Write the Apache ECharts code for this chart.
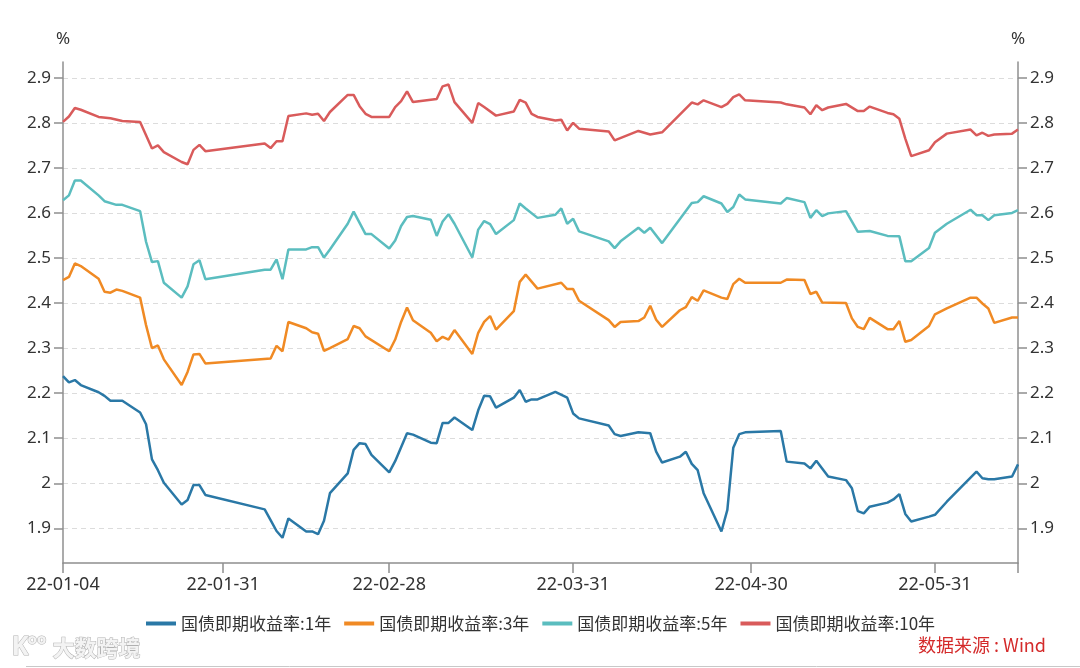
<!DOCTYPE html>
<html>
<head>
<meta charset="utf-8">
<style>
  html, body { margin: 0; padding: 0; background: #fff; }
  #chart { width: 1080px; height: 668px; }
</style>
<script src="https://cdn.jsdelivr.net/npm/echarts@6/dist/echarts.min.js"></script>
</head>
<body>
<div id="chart"></div>
<script>
// ---- Data ----
const seriesNames = ['国债即期收益率:1年', '国债即期收益率:3年', '国债即期收益率:5年', '国债即期收益率:10年'];
const tickDates = ['2022-01-04', '2022-01-31', '2022-02-28', '2022-03-31', '2022-04-30', '2022-05-31'];
const yTicks = [1.9, 2.0, 2.1, 2.2, 2.3, 2.4, 2.5, 2.6, 2.7, 2.8, 2.9];
const startDate = '2022-01-04';
const endDate = '2022-06-14';

const d1 = ['01-04','01-05','01-06','01-07','01-10','01-11','01-12','01-14','01-17','01-18','01-19','01-20','01-21','01-24','01-25','01-26','01-27','01-28','02-07','02-08','02-09','02-10','02-11','02-14','02-15','02-16','02-17','02-18','02-21','02-22','02-23','02-24','02-25','02-28','03-01','03-03','03-04','03-07','03-08','03-09','03-10','03-11','03-14','03-15','03-16','03-17','03-18','03-21','03-22','03-23','03-24','03-25','03-28','03-30','03-31','04-01','04-06','04-07','04-08','04-11','04-13','04-14','04-15','04-18','04-19','04-20','04-21','04-22','04-25','04-26','04-27','04-28','04-29','05-05','05-06','05-09','05-10','05-11','05-13','05-16','05-17','05-18','05-19','05-20','05-23','05-24','05-25','05-26','05-27','05-30','05-31','06-02','06-07','06-08','06-09','06-10','06-13','06-14'];
const v1 = [2.238,2.224,2.229,2.218,2.202,2.194,2.183,2.183,2.157,2.131,2.053,2.029,2.001,1.953,1.963,1.996,1.996,1.974,1.942,1.918,1.894,1.879,1.922,1.893,1.893,1.887,1.917,1.978,2.022,2.074,2.089,2.087,2.063,2.024,2.049,2.111,2.108,2.090,2.089,2.134,2.134,2.146,2.118,2.162,2.194,2.193,2.168,2.190,2.207,2.181,2.186,2.186,2.203,2.190,2.155,2.144,2.128,2.109,2.105,2.113,2.111,2.070,2.046,2.059,2.070,2.043,2.029,1.978,1.893,1.941,2.079,2.109,2.113,2.116,2.048,2.044,2.033,2.050,2.015,2.007,1.989,1.938,1.933,1.948,1.957,1.964,1.976,1.932,1.915,1.926,1.930,1.959,2.026,2.011,2.009,2.009,2.015,2.042];

const d3 = ['01-04','01-05','01-06','01-07','01-10','01-11','01-12','01-13','01-14','01-17','01-18','01-19','01-20','01-21','01-24','01-25','01-26','01-27','01-28','02-08','02-09','02-10','02-11','02-14','02-15','02-16','02-17','02-18','02-21','02-22','02-23','02-24','02-28','03-01','03-02','03-03','03-04','03-07','03-08','03-09','03-10','03-11','03-14','03-15','03-16','03-17','03-18','03-21','03-22','03-23','03-25','03-29','03-30','03-31','04-01','04-06','04-07','04-08','04-11','04-12','04-13','04-14','04-15','04-18','04-19','04-20','04-21','04-22','04-25','04-26','04-27','04-28','04-29','05-05','05-06','05-09','05-10','05-11','05-12','05-16','05-17','05-18','05-19','05-20','05-23','05-24','05-25','05-26','05-27','05-30','05-31','06-02','06-06','06-07','06-08','06-09','06-10','06-13','06-14'];
const v3 = [2.451,2.458,2.488,2.482,2.454,2.425,2.423,2.430,2.427,2.412,2.351,2.300,2.306,2.275,2.218,2.247,2.286,2.287,2.266,2.277,2.305,2.293,2.358,2.344,2.335,2.332,2.294,2.300,2.320,2.349,2.344,2.326,2.293,2.319,2.358,2.390,2.362,2.334,2.315,2.325,2.319,2.340,2.287,2.334,2.358,2.371,2.341,2.382,2.447,2.463,2.432,2.445,2.431,2.431,2.405,2.362,2.347,2.358,2.360,2.368,2.394,2.363,2.347,2.384,2.391,2.413,2.405,2.428,2.412,2.409,2.442,2.454,2.445,2.445,2.452,2.451,2.420,2.425,2.401,2.400,2.366,2.347,2.342,2.367,2.342,2.342,2.360,2.314,2.318,2.349,2.375,2.388,2.412,2.412,2.399,2.388,2.356,2.368,2.368];

const d5 = ['01-04','01-05','01-06','01-07','01-10','01-11','01-13','01-14','01-17','01-18','01-19','01-20','01-21','01-24','01-25','01-26','01-27','01-28','02-07','02-08','02-09','02-10','02-11','02-14','02-15','02-16','02-17','02-18','02-21','02-22','02-24','02-25','02-28','03-01','03-02','03-03','03-04','03-07','03-08','03-09','03-10','03-11','03-14','03-15','03-16','03-17','03-18','03-21','03-22','03-23','03-25','03-28','03-29','03-30','03-31','04-01','04-06','04-07','04-08','04-11','04-12','04-13','04-15','04-20','04-21','04-22','04-25','04-26','04-27','04-28','04-29','05-05','05-06','05-09','05-10','05-11','05-12','05-13','05-16','05-18','05-20','05-23','05-25','05-26','05-27','05-30','05-31','06-02','06-06','06-07','06-08','06-09','06-10','06-13','06-14'];
const v5 = [2.628,2.639,2.672,2.672,2.639,2.626,2.618,2.618,2.604,2.536,2.491,2.493,2.445,2.412,2.437,2.486,2.495,2.453,2.474,2.474,2.497,2.453,2.519,2.519,2.524,2.524,2.501,2.519,2.576,2.603,2.553,2.553,2.521,2.539,2.571,2.591,2.593,2.585,2.549,2.581,2.597,2.576,2.501,2.563,2.582,2.575,2.553,2.584,2.621,2.610,2.589,2.596,2.610,2.576,2.587,2.559,2.537,2.522,2.537,2.567,2.556,2.567,2.533,2.622,2.624,2.637,2.621,2.602,2.613,2.641,2.630,2.621,2.633,2.624,2.589,2.606,2.593,2.599,2.604,2.558,2.560,2.549,2.548,2.493,2.493,2.522,2.556,2.576,2.607,2.595,2.595,2.584,2.595,2.600,2.606];

const d10 = ['01-04','01-05','01-06','01-07','01-10','01-12','01-14','01-17','01-19','01-20','01-21','01-24','01-25','01-26','01-27','01-28','02-07','02-08','02-09','02-10','02-11','02-14','02-15','02-16','02-17','02-18','02-21','02-22','02-23','02-24','02-25','02-28','03-01','03-02','03-03','03-04','03-08','03-09','03-10','03-11','03-14','03-15','03-16','03-18','03-21','03-22','03-23','03-24','03-25','03-28','03-29','03-30','03-31','04-01','04-06','04-07','04-11','04-13','04-15','04-20','04-21','04-22','04-25','04-26','04-27','04-28','04-29','05-05','05-06','05-09','05-10','05-11','05-12','05-13','05-16','05-18','05-19','05-20','05-23','05-24','05-25','05-26','05-27','05-30','05-31','06-02','06-06','06-07','06-08','06-09','06-10','06-13','06-14'];
const v10 = [2.802,2.814,2.833,2.829,2.813,2.810,2.804,2.802,2.743,2.750,2.735,2.713,2.708,2.740,2.751,2.737,2.754,2.744,2.759,2.759,2.815,2.821,2.818,2.820,2.804,2.824,2.862,2.862,2.837,2.820,2.813,2.813,2.835,2.848,2.870,2.846,2.853,2.881,2.885,2.846,2.800,2.844,2.835,2.816,2.825,2.851,2.845,2.820,2.813,2.805,2.807,2.783,2.800,2.787,2.781,2.761,2.782,2.774,2.779,2.845,2.841,2.850,2.835,2.842,2.857,2.863,2.850,2.845,2.841,2.834,2.819,2.839,2.828,2.834,2.842,2.826,2.826,2.836,2.822,2.819,2.809,2.765,2.726,2.739,2.757,2.776,2.785,2.772,2.778,2.771,2.774,2.776,2.785];

const colors = ['#2a78a6', '#f08a24', '#5bbdbf', '#d95b5b'];

// ---- Calendar-day categories (linear date spacing) ----
const cats = [];
{
  const s = Date.parse(startDate + 'T00:00:00Z');
  const e = Date.parse(endDate + 'T00:00:00Z');
  for (let t = s; t <= e; t += 86400000) {
    cats.push(new Date(t).toISOString().slice(0, 10));
  }
}
const pairs = (d, v) => d.map((m, i) => ['2022-' + m, v[i]]);
const allSeries = [pairs(d1, v1), pairs(d3, v3), pairs(d5, v5), pairs(d10, v10)];

const numFont = '"Noto Sans", "Noto Sans CJK SC", sans-serif';
const cjkFont = '"Noto Sans CJK SC", "Noto Sans", sans-serif';
const axisGrey = '#8f8f8f';

function yAxis(pos, withSplit) {
  return {
    type: 'value',
    position: pos,
    min: 1.823,
    max: 2.935,
    name: '%',
    nameLocation: 'end',
    nameGap: 14,
    nameTextStyle: { color: '#333', fontSize: 17, fontFamily: numFont, align: 'center' },
    axisLine: { show: true, lineStyle: { color: axisGrey, width: 1.5 } },
    axisTick: { show: true, length: 9, customValues: yTicks, lineStyle: { color: axisGrey, width: 1.5 } },
    axisLabel: {
      show: true, customValues: yTicks, margin: 12,
      color: '#333', fontSize: 17, fontFamily: numFont,
      formatter: v => (Math.round(v * 10) / 10).toString()
    },
    splitLine: { show: withSplit, lineStyle: { color: '#dcdcdc', type: [5, 4], width: 1 } }
  };
}

const wmStyle = { fill: '#f3f3f3', stroke: 'rgba(150,150,150,0.75)', lineWidth: 1 };

const chart = echarts.init(document.getElementById('chart'), null, { renderer: 'canvas' });
chart.setOption({
  animation: false,
  backgroundColor: '#fff',
  color: colors,
  grid: { left: 63, right: 62, top: 62, bottom: 105, containLabel: false, outerBoundsMode: 'none' },
  legend: {
    left: 141, top: 610,
    icon: 'rect', itemWidth: 30, itemHeight: 4, itemGap: 13,
    textStyle: { color: '#333', fontSize: 17, fontFamily: cjkFont },
    data: seriesNames
  },
  xAxis: {
    type: 'category',
    data: cats,
    boundaryGap: false,
    axisLine: { show: true, lineStyle: { color: axisGrey, width: 1.5 } },
    axisTick: {
      show: true, length: 10,
      interval: (i, v) => tickDates.indexOf(v) >= 0 || i === cats.length - 1,
      lineStyle: { color: axisGrey, width: 1.5 }
    },
    axisLabel: {
      show: true, margin: 13,
      interval: (i, v) => tickDates.indexOf(v) >= 0,
      color: '#333', fontSize: 18, fontFamily: numFont,
      formatter: v => v.slice(2)
    },
    splitLine: { show: false }
  },
  yAxis: [yAxis('left', true), yAxis('right', false)],
  series: seriesNames.map((n, k) => ({
    name: n,
    type: 'line',
    yAxisIndex: 0,
    data: allSeries[k],
    showSymbol: false,
    symbol: 'none',
    smooth: false,
    lineStyle: { width: 2.5, color: colors[k] },
    itemStyle: { color: colors[k] }
  })),
  graphic: [
    {
      type: 'text', right: 34, top: 636,
      style: { text: '数据来源 : Wind', fill: '#d42a2a', font: '18px "Noto Sans CJK SC", sans-serif' }
    },
    {
      type: 'text', left: 11, top: 634,
      style: Object.assign({ text: 'K', font: 'bold 26px "Noto Sans", sans-serif' }, wmStyle)
    },
    {
      type: 'text', left: 27, top: 632,
      style: Object.assign({ text: 'oo', font: 'bold 15px "Noto Sans", sans-serif' }, wmStyle)
    },
    {
      type: 'text', left: 52, top: 636,
      style: Object.assign({ text: '大数跨境', font: 'bold 22px "Noto Sans CJK SC", sans-serif' }, wmStyle)
    },
    {
      type: 'line', shape: { x1: 26, y1: 666.5, x2: 1080, y2: 666.5 },
      style: { stroke: '#c8c8c8', lineWidth: 1 }
    }
  ]
});
</script>
</body>
</html>
